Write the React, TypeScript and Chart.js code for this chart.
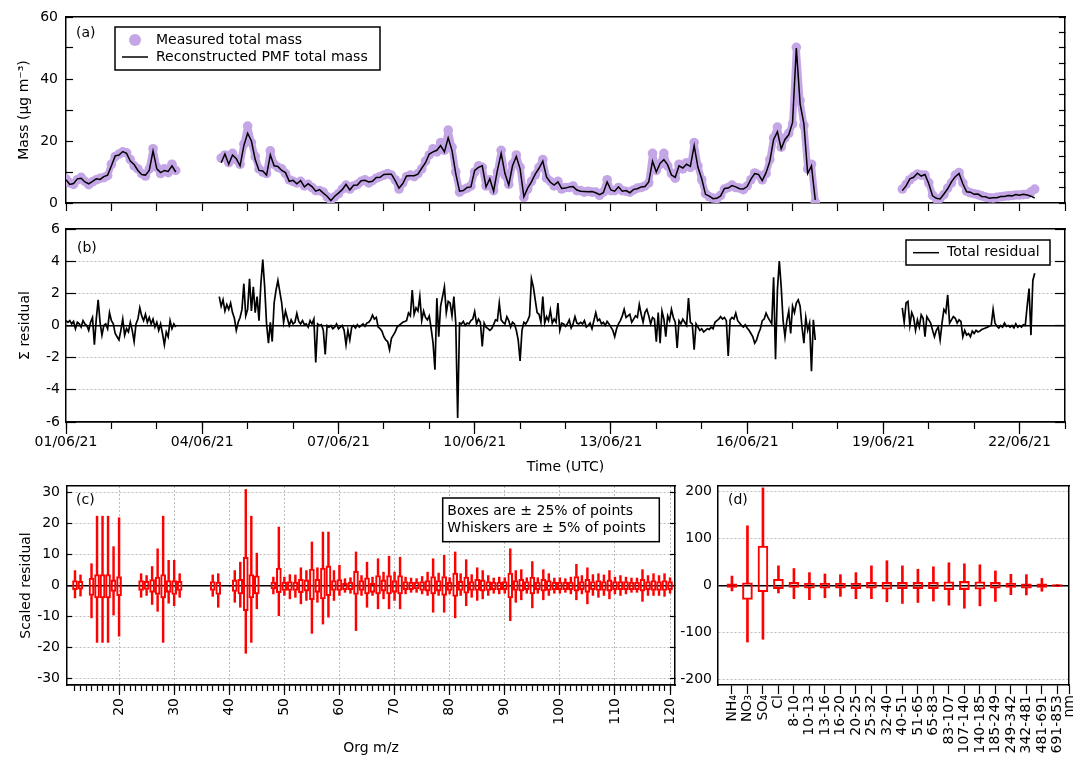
import React, { useEffect, useRef } from 'react';
import { Chart, registerables } from 'chart.js';

Chart.register(...registerables);

const FONT_FAMILY = '"DejaVu Sans", sans-serif';
const FONT_SIZE = 14;
Chart.defaults.font.family = FONT_FAMILY;
Chart.defaults.font.size = FONT_SIZE;
Chart.defaults.color = '#000';

const _ = null;

// ---------------------------------------------------------------------------
// (a) total mass, one row per day from 01/06/21, 2-hourly samples (null = no data)
const MASS_STEP_HOURS = 2;
const measuredMass: (number | null)[][] = [
  [7.8, 6.5, 6.0, 7.5, 8.3, 7.0, 5.9, 6.8, 7.5, 8.0, 8.2, 8.8], // 01/06
  [12.5, 15.0, 15.8, 16.5, 16.2, 14.0, 12.0, 11.0, 9.5, 8.7, 11.0, 17.5], // 02/06
  [11.5, 9.5, 11.0, 9.8, 12.5, 10.5, _, _, _, _, _, _], // 03/06
  [_, _, _, _, _, 14.5, 15.5, 13.0, 16.0, 14.0, 12.5, 19.0], // 04/06
  [24.8, 19.5, 15.0, 11.0, 10.0, 9.5, 16.8, 12.5, 11.5, 11.0, 9.5, 7.5], // 05/06
  [7.0, 6.5, 7.0, 5.5, 6.0, 5.0, 4.0, 4.0, 3.5, 2.0, 1.0, 2.0], // 06/06
  [3.0, 4.5, 5.8, 4.5, 5.5, 6.0, 7.0, 7.5, 6.5, 7.2, 8.0, 8.5], // 07/06
  [9.0, 9.5, 9.0, 7.5, 4.5, 6.5, 8.5, 9.0, 8.5, 9.5, 11.0, 13.5], // 08/06
  [15.5, 17.5, 16.5, 19.5, 17.0, 23.5, 18.0, 10.0, 3.5, 4.3, 4.8, 5.5], // 09/06
  [10.0, 12.0, 11.5, 5.5, 7.5, 4.0, 10.0, 17.0, 9.0, 6.0, 12.5, 15.5], // 10/06
  [11.5, 1.8, 4.5, 7.0, 9.0, 11.5, 14.0, 8.0, 7.0, 5.5, 7.0, 4.5], // 11/06
  [5.0, 5.0, 5.5, 4.0, 4.0, 3.5, 3.8, 3.5, 3.5, 2.5, 3.5, 7.5], // 12/06
  [4.0, 4.0, 5.0, 4.0, 3.8, 3.5, 4.2, 4.8, 5.0, 5.5, 6.5, 16.0], // 13/06
  [10.5, 12.5, 16.0, 12.0, 9.5, 8.0, 12.5, 11.0, 13.0, 11.5, 19.5, 12.0], // 14/06
  [7.5, 3.0, 2.0, 1.6, 1.4, 2.5, 4.5, 5.0, 5.8, 5.0, 4.8, 4.3], // 15/06
  [5.5, 7.5, 9.7, 9.0, 7.5, 9.5, 14.0, 21.0, 24.5, 18.0, 21.0, 22.5], // 16/06
  [25.5, 50.2, 33.0, 25.0, 11.0, 12.5, 0.3, _, _, _, _, _], // 17/06
  [_, _, _, _, _, _, _, _, _, _, _, _], // 18/06
  [_, _, _, _, _, 4.5, 6.0, 7.5, 8.5, 9.3, 9.0, 9.0], // 19/06
  [6.5, 2.5, 1.3, 1.5, 2.7, 4.8, 6.5, 9.0, 9.8, 6.5, 3.8, 3.3], // 20/06
  [3.0, 2.7, 2.3, 1.9, 1.7, 1.6, 1.8, 2.0, 2.2, 2.3, 2.4, 2.6], // 21/06
  [2.6, 2.7, 2.8, 3.6, 4.5, _, _, _, _, _, _, _], // 22/06
];

const reconstructedMass: (number | null)[][] = [
  [7.5, 6.0, 6.3, 7.8, 8.0, 6.8, 6.2, 7.0, 7.8, 7.6, 8.5, 9.0], // 01/06
  [12.0, 15.2, 15.5, 16.6, 16.0, 13.5, 12.4, 10.5, 9.2, 9.0, 10.5, 16.8], // 02/06
  [11.0, 9.8, 10.5, 10.2, 12.0, 10.0, _, _, _, _, _, _], // 03/06
  [_, _, _, _, _, 13.0, 15.8, 12.5, 15.5, 14.3, 12.0, 18.5], // 04/06
  [22.5, 20.0, 14.0, 10.5, 10.3, 9.0, 15.5, 12.0, 11.8, 10.5, 9.8, 7.0], // 05/06
  [7.3, 6.2, 7.2, 5.2, 6.2, 5.3, 3.8, 4.3, 3.2, 2.2, 0.8, 2.2], // 06/06
  [3.2, 4.3, 6.0, 4.2, 5.7, 5.8, 7.2, 7.3, 6.8, 7.0, 8.2, 8.3], // 07/06
  [9.2, 9.3, 9.3, 7.2, 4.8, 6.3, 8.7, 8.8, 8.8, 9.3, 11.2, 13.0], // 08/06
  [15.8, 16.5, 17.0, 18.5, 16.5, 21.0, 17.0, 9.5, 3.8, 4.0, 5.0, 5.2], // 09/06
  [10.5, 11.5, 12.0, 5.2, 7.8, 3.8, 10.5, 16.0, 9.5, 5.8, 12.0, 15.0], // 10/06
  [11.0, 2.0, 4.8, 6.8, 9.3, 11.2, 13.5, 8.3, 6.7, 5.8, 6.8, 4.7], // 11/06
  [4.8, 5.2, 5.3, 4.2, 3.8, 3.7, 3.6, 3.7, 3.3, 2.7, 3.3, 6.8], // 12/06
  [4.2, 3.8, 5.2, 3.8, 4.0, 3.3, 4.4, 4.6, 5.2, 5.3, 6.8, 13.5], // 13/06
  [10.0, 12.8, 14.0, 12.3, 9.0, 8.3, 12.0, 11.3, 12.5, 11.8, 18.5, 11.5], // 14/06
  [7.8, 2.8, 2.2, 1.4, 1.5, 2.3, 4.7, 4.8, 5.6, 5.2, 4.6, 4.5], // 15/06
  [5.3, 7.7, 9.5, 9.2, 7.2, 9.8, 13.5, 20.5, 23.0, 17.5, 20.5, 22.0], // 16/06
  [26.0, 50.0, 32.0, 25.5, 9.5, 12.0, 1.0, _, _, _, _, _], // 17/06
  [_, _, _, _, _, _, _, _, _, _, _, _], // 18/06
  [_, _, _, _, _, 4.0, 5.5, 7.8, 8.3, 9.6, 8.7, 9.2], // 19/06
  [6.2, 2.3, 1.5, 1.3, 2.9, 4.6, 6.8, 8.5, 9.5, 6.2, 3.6, 3.5], // 20/06
  [2.8, 2.9, 2.1, 2.0, 1.5, 1.7, 1.7, 2.1, 2.1, 2.4, 2.3, 2.7], // 21/06
  [2.5, 2.8, 2.6, 2.2, 1.6, _, _, _, _, _, _, _], // 22/06
];

// (b) total residual, one row per day, hourly samples
const RESIDUAL_STEP_HOURS = 1;
const totalResidual: (number | null)[][] = [
  [0.3, 0.2, 0.3, 0.1, 0.25, -0.2, 0.2, 0.1, -0.1, 0.3, 0.1, 0.0, -0.3, 0.2, 0.5, -1.2, 0.4, 1.6, 0.2, -0.6, 0.0, 0.1, -0.2, 0.8], // 01/06
  [0.3, 0.1, -0.5, -0.7, -0.9, -0.3, 0.4, -0.6, -0.2, -0.4, 0.2, -0.3, -1.0, 0.1, 0.4, 1.1, 0.6, 0.3, 0.7, 0.2, 0.5, 0.1, 0.4, -0.1], // 02/06
  [0.2, -0.3, 0.1, -0.5, -1.2, -0.4, -0.7, 0.3, -0.2, 0.1, -0.1, _, _, _, _, _, _, _, _, _, _, _, _, _], // 03/06
  [_, _, _, _, _, _, _, _, _, 1.8, 1.2, 1.6, 0.9, 1.3, 1.0, 1.4, 0.8, 0.45, -0.3, 0.2, 0.5, 1.0, 2.6, 0.6], // 04/06
  [1.0, 2.9, 0.9, 2.4, 0.8, 1.8, 0.3, 2.6, 4.1, 2.4, 0.1, -1.1, 0.2, -1.0, 1.4, 2.2, 2.8, 2.1, 1.4, 0.2, 0.9, 0.45, 0.0, 0.35], // 05/06
  [0.1, 0.2, 0.75, 0.25, 0.1, 0.3, 0.05, 0.1, -0.1, 0.3, 0.1, 0.4, -2.3, 0.1, 0.0, 0.05, -0.3, -1.8, 0.0, -0.1, 0.0, -0.2, -0.1, 0.1], // 06/06
  [-0.2, -0.1, 0.0, -0.3, -1.2, -0.3, -0.9, -0.1, 0.0, -0.15, 0.05, -0.1, 0.0, 0.1, -0.05, 0.15, 0.2, 0.35, 0.65, 0.4, 0.5, -0.1, -0.2, -0.35], // 07/06
  [-0.7, -0.9, -1.0, -1.5, -0.8, -0.6, -0.4, -0.1, 0.0, 0.1, 0.2, 0.25, 0.3, 0.77, 0.6, 2.2, 0.7, 1.1, 0.9, 1.8, 0.3, 0.9, 0.5, 0.35], // 08/06
  [0.6, -0.2, -1.1, -2.75, 1.7, -0.7, 1.2, 1.8, 2.4, 0.8, 1.5, 1.4, 0.6, 1.8, 0.15, -5.75, 0.15, 0.1, 0.25, 0.0, 0.15, 0.1, 0.3, 0.4], // 09/06
  [0.87, 0.1, 0.4, 0.2, -1.3, 0.15, -0.1, -0.2, -0.3, -0.2, 0.05, 0.35, 0.3, 1.4, 0.35, 0.2, 0.1, 0.55, 0.3, -0.1, 0.2, 0.1, -0.3, -0.9], // 10/06
  [-2.2, -0.3, 0.2, 0.1, 0.3, 0.6, 2.9, 2.4, 1.6, 0.8, 0.7, 0.2, 1.8, 0.15, 0.55, 0.3, 0.95, 0.15, 0.4, 0.2, 1.4, -0.3, 0.15, 0.1], // 11/06
  [-0.05, 0.1, 0.35, -0.15, 0.1, 0.55, 0.15, 0.1, 0.2, 0.1, 0.3, -0.1, 0.0, 0.15, -0.2, 0.3, 0.8, 0.3, 0.4, 0.1, 0.2, 0.0, 0.25, 0.1], // 12/06
  [-0.1, -0.3, -0.7, -0.2, 0.1, 0.3, 0.6, 1.0, 0.5, 0.6, 0.7, 0.2, 0.4, 0.6, 0.5, 1.3, 0.7, 0.2, 0.8, 1.0, 0.6, 0.1, 0.5, 0.4], // 13/06
  [-1.0, 0.8, -1.1, 0.9, 0.4, -0.7, 0.6, 0.3, 1.0, 0.5, 0.2, -1.4, 0.3, 0.1, 0.4, 0.2, 0.0, 1.7, 0.2, 0.1, -1.5, 0.1, -0.1, -0.3], // 14/06
  [-0.2, -0.4, -0.3, -0.2, -0.25, -0.1, -0.2, 0.2, 0.3, 0.4, 0.55, 0.4, 0.5, 0.3, -1.9, 0.35, 0.5, 0.4, 0.77, 0.3, 0.15, 0.0, -0.1, 0.05], // 15/06
  [-0.15, -0.3, -0.5, -0.7, -1.1, -0.9, -0.5, -0.2, 0.3, 0.4, 0.77, 0.5, 0.3, 0.1, 3.0, -2.1, 2.2, 4.0, 2.4, 0.3, -0.7, 0.3, 0.9, -0.5], // 16/06
  [1.2, 0.8, 1.4, 1.6, 1.2, -0.1, -1.1, 0.5, -0.3, 0.15, -2.85, 0.35, -0.9, _, _, _, _, _, _, _, _, _, _, _], // 17/06
  [_, _, _, _, _, _, _, _, _, _, _, _, _, _, _, _, _, _, _, _, _, _, _, _], // 18/06
  [_, _, _, _, _, _, _, _, _, _, 1.1, 0.2, 1.4, 1.5, 0.0, 0.8, 0.5, -0.3, 0.35, -0.1, 0.66, 0.45, -0.7, 0.55], // 19/06
  [0.35, 0.15, -0.3, -0.7, -0.3, -0.1, -0.9, 0.15, 1.0, 0.8, 1.9, 0.15, 0.35, 0.55, 0.45, 0.15, 0.35, 0.25, -0.7, -0.3, -0.6, -0.5, -0.7, -0.35], // 20/06
  [-0.5, -0.3, -0.4, -0.35, -0.25, -0.2, -0.15, -0.1, -0.05, 0.0, 1.0, 0.15, -0.05, -0.15, 0.0, -0.1, 0.15, -0.05, 0.0, -0.1, 0.0, -0.15, 0.1, -0.1], // 21/06
  [0.0, -0.1, 0.05, 0.0, 1.2, 2.3, -0.6, 2.8, 3.25, _, _, _, _, _, _, _, _, _, _, _, _, _, _, _], // 22/06
];

const SPAN_DAYS = 22;
const dateTickDays = [0, 3, 6, 9, 12, 15, 18, 21];
const dateTickLabels = ['01/06/21', '04/06/21', '07/06/21', '10/06/21', '13/06/21', '16/06/21', '19/06/21', '22/06/21'];

// (c) scaled residual per organic m/z: 5th, 25th, 75th, 95th percentiles
const orgMz = [
  12, 13, 15, 16, 17, 18, 19, 20,
  24, 25, 26, 27, 28, 29, 30, 31,
  37, 38, 41, 42, 43, 44, 45,
  48, 49, 50, 51, 52, 53, 54, 55, 56, 57,
  58, 59, 60, 61, 62, 63, 64, 65, 66, 67,
  68, 69, 70, 71, 72, 73, 74, 75, 76, 77,
  78, 79, 80, 81, 82, 83, 84, 85, 86, 87,
  88, 89, 90, 91, 92, 93, 94, 95, 96, 97,
  98, 99, 100, 101, 102, 103, 104, 105, 106, 107,
  108, 109, 110, 111, 112, 113, 114, 115, 116, 117,
  118, 119, 120,
];
const orgP5 = [
  -4.0, -3.4, -10.4, -18.3, -18.3, -18.3, -9.5, -16.3,
  -3.8, -3.2, -6.1, -8.3, -18.3, -5.7, -6.5, -3.8,
  -3.5, -7.0, -5.4, -7.0, -21.8, -18.3, -7.5,
  -2.7, -9.7, -3.2, -4.3, -3.8, -5.9, -4.8, -15.4, -5.4, -12.4,
  -10.2, -4.8, -3.2, -2.2, -2.5, -14.5, -3.2, -7.0, -3.2, -7.5,
  -4.3, -7.5, -4.8, -7.5, -2.7, -2.2, -2.2, -2.7, -3.2, -8.6,
  -3.2, -8.6, -2.7, -10.4, -3.2, -6.5, -3.8, -4.8, -4.3, -3.2,
  -2.5, -2.7, -2.5, -11.3, -5.4, -4.6, -2.5, -7.2, -2.5, -4.6,
  -3.2, -2.5, -2.5, -2.2, -2.7, -4.6, -2.7, -5.9, -3.2, -3.8,
  -3.2, -4.3, -2.7, -3.2, -2.7, -2.2, -2.2, -5.1, -3.2, -3.2,
  -3.2, -3.5, -2.5,
];
const orgQ25 = [
  -1.4, -1.2, -3.2, -4.0, -4.0, -4.0, -1.9, -3.3,
  -1.6, -1.3, -2.2, -2.9, -4.0, -2.2, -2.9, -1.6,
  -1.6, -2.9, -1.9, -2.7, -8.1, -4.0, -2.7,
  -1.1, -2.3, -1.6, -1.6, -1.6, -2.3, -1.8, -4.6, -2.2, -4.3,
  -3.3, -1.6, -1.6, -1.4, -1.4, -2.9, -1.6, -2.7, -2.2, -2.7,
  -1.8, -2.7, -2.2, -2.7, -1.4, -1.4, -1.1, -1.6, -1.8, -2.7,
  -1.8, -3.2, -1.6, -3.5, -1.6, -2.5, -1.6, -1.6, -1.8, -1.6,
  -1.4, -1.4, -1.4, -4.0, -1.6, -1.8, -1.4, -2.7, -1.4, -1.8,
  -1.6, -1.4, -1.4, -1.4, -1.4, -1.8, -1.4, -2.2, -1.4, -1.6,
  -1.6, -1.8, -1.4, -1.4, -1.4, -1.4, -1.4, -1.8, -1.4, -1.6,
  -1.6, -1.6, -1.4,
];
const orgQ75 = [
  1.6, 1.4, 2.4, 3.5, 3.5, 3.5, 1.8, 2.9,
  1.6, 1.4, 1.9, 2.7, 3.5, 1.6, 1.6, 1.4,
  1.3, 1.1, 1.8, 2.0, 9.1, 3.5, 3.1,
  1.1, 5.6, 1.1, 1.3, 1.1, 2.0, 1.8, 5.3, 2.0, 5.6,
  6.3, 1.6, 1.9, 0.75, 1.1, 4.6, 1.6, 2.5, 0.75, 3.2,
  1.8, 3.2, 1.6, 3.2, 1.3, 1.1, 1.1, 1.3, 1.6, 2.9,
  1.6, 2.9, 1.1, 4.0, 1.4, 2.7, 1.3, 2.0, 1.8, 1.3,
  1.1, 1.1, 1.3, 4.0, 1.6, 2.0, 1.3, 2.7, 1.1, 2.0,
  1.6, 1.1, 1.1, 1.1, 1.1, 2.9, 1.3, 2.0, 1.3, 1.6,
  1.3, 1.8, 1.3, 1.3, 1.3, 1.1, 1.1, 2.0, 1.3, 1.6,
  1.3, 1.6, 1.3,
];
const orgP95 = [
  4.8, 3.4, 7.0, 22.3, 22.3, 22.3, 12.5, 21.8,
  3.8, 3.2, 6.1, 11.8, 22.3, 8.1, 8.1, 3.8,
  3.4, 3.8, 4.8, 7.5, 30.9, 22.3, 10.4,
  2.7, 18.8, 2.7, 3.5, 3.4, 5.7, 4.8, 14.0, 5.7, 17.2,
  17.2, 4.8, 6.5, 2.2, 2.5, 10.8, 3.2, 7.5, 2.7, 8.6,
  4.3, 9.4, 4.3, 9.1, 2.7, 2.4, 2.2, 2.9, 4.3, 8.6,
  4.0, 9.7, 2.5, 10.8, 3.8, 8.3, 3.5, 5.7, 4.8, 3.2,
  2.4, 2.7, 2.5, 11.8, 4.8, 5.1, 2.5, 7.7, 2.5, 5.1,
  3.8, 2.4, 2.5, 2.2, 2.7, 6.8, 3.2, 5.7, 3.5, 3.8,
  3.4, 4.8, 2.7, 3.2, 2.7, 2.4, 2.4, 5.1, 3.2, 3.8,
  3.2, 3.8, 2.5,
];

// (d) scaled residual per inorganic species and size bin
const sizeCategories = [
  'NH₄', 'NO₃', 'SO₄', 'Cl', '8-10', '10-13', '13-16', '16-20', '20-25', '25-32', '32-40',
  '40-51', '51-65', '65-83', '83-107', '107-140', '140-185', '185-249', '249-342', '342-481', '481-691', '691-853',
];
const SIZE_UNIT = 'nm';
const sizeP5 = [-11.5, -120, -114, -15.8, -28, -30, -26, -23, -28, -28, -34.5, -38, -36, -33, -41.7, -48.2, -43.2, -33.8, -19.4, -20.1, -12.2, -2];
const sizeQ25 = [-4.3, -29.5, -13, -6.5, -4.3, -5.8, -5.8, -5.8, -6.5, -5.8, -7.9, -6.5, -6.5, -6.5, -8.6, -8.6, -7.9, -5.8, -4.3, -5.8, -4.3, -2];
const sizeQ75 = [3.6, 5.8, 83.5, 13, 6.5, 5, 5, 5, 5, 6.5, 6.5, 6.5, 6.5, 6.5, 7.9, 8.6, 7.9, 6.5, 5, 3.6, 3.6, 2];
const sizeP95 = [20, 126.6, 207, 41.7, 36, 27.3, 24.5, 23, 27.3, 41.7, 52.5, 41.7, 34.5, 39.6, 48.2, 46, 43.9, 31, 23.7, 23, 15, 2];

// ---------------------------------------------------------------------------
const PAGE_W = 1078;
const PAGE_H = 764;
const INK = '#000';
const GRID_GREY = '#bdbdbd';
const DOT = [2, 2];
const LAVENDER = '#c4a6e6';
const RED = '#ff0000';
const CLEAR = 'rgba(0,0,0,0)';
const TEXT_FONT = `${FONT_SIZE}px ${FONT_FAMILY}`;

const MEASURED_LABEL = 'Measured total mass';
const RECONSTRUCTED_LABEL = 'Reconstructed PMF total mass';
const RESIDUAL_LABEL = 'Total residual';

const steps = (from: number, to: number, step: number) => {
  const out: number[] = [];
  for (let v = from; v <= to + 1e-9; v += step) out.push(+v.toFixed(6));
  return out;
};

const fixedSize = (size: number) => (scale: any) => {
  if (scale.isHorizontal()) scale.height = size;
  else scale.width = size;
  scale.paddingLeft = 0;
  scale.paddingRight = 0;
  scale.paddingTop = 0;
  scale.paddingBottom = 0;
};

const ticksAt = (values: number[]) => (scale: any) => {
  scale.ticks = values.map((value) => ({ value }));
};

const frame = { color: INK, width: 1.5 };

const frameTop = (min: number, max: number) => ({
  type: 'linear',
  position: 'top',
  min,
  max,
  ticks: { display: false },
  grid: { drawOnChartArea: false, drawTicks: false },
  border: frame,
  afterFit: fixedSize(0),
});

const frameRight = (min: number, max: number, ticks: number[], tickLength: number) => ({
  type: 'linear',
  position: 'right',
  min,
  max,
  afterBuildTicks: ticksAt(ticks),
  ticks: { display: false },
  grid: { drawOnChartArea: false, drawTicks: tickLength !== 0, tickLength, tickColor: INK, tickWidth: 1.2 },
  border: frame,
  afterFit: fixedSize(0),
});

// horizontal grid: dotted grey, solid black at zero, hidden on the frame edges
const zeroGrid = (edge: number) => ({
  drawOnChartArea: true,
  color: (c: any) => {
    const v = c.tick ? c.tick.value : NaN;
    if (v === 0) return INK;
    return Math.abs(v) >= edge ? CLEAR : GRID_GREY;
  },
  lineWidth: (c: any) => (c.tick && c.tick.value === 0 ? 1.5 : 1),
  tickColor: INK,
  tickWidth: 1.2,
});
const zeroBorder = { ...frame, dash: (c: any) => (c.tick && c.tick.value !== 0 ? DOT : []) };

const baseOptions = (padding: any) => ({
  responsive: false,
  animation: false,
  devicePixelRatio: 1,
  events: [],
  layout: { padding },
  plugins: { legend: { display: false }, tooltip: { enabled: false } },
});

type DecorRow = { text: string; y: number; marker?: 'dot' | 'line' };
type Decor = {
  tag: string;
  tagX: number;
  tagY: number;
  box?: { x: number; y: number; w: number; h: number; textX: number; rows: DecorRow[] };
};

// panel letter plus framed legend / note, positioned from the plot area corner
const makeDecor = (decor: Decor) => ({
  id: 'panelDecor',
  afterDraw(chart: any) {
    const { ctx } = chart;
    const { left, top } = chart.chartArea;
    ctx.save();
    ctx.font = TEXT_FONT;
    ctx.textAlign = 'left';
    ctx.textBaseline = 'middle';
    ctx.fillStyle = INK;
    ctx.fillText(decor.tag, left + decor.tagX, top + decor.tagY);
    const box = decor.box;
    if (box) {
      const bx = left + box.x;
      const by = top + box.y;
      ctx.fillStyle = '#fff';
      ctx.fillRect(bx, by, box.w, box.h);
      ctx.strokeStyle = INK;
      ctx.lineWidth = 1.5;
      ctx.strokeRect(bx, by, box.w, box.h);
      for (const row of box.rows) {
        const y = top + row.y;
        if (row.marker === 'dot') {
          ctx.fillStyle = LAVENDER;
          ctx.beginPath();
          ctx.arc(bx + 20, y, 6, 0, Math.PI * 2);
          ctx.fill();
        } else if (row.marker === 'line') {
          ctx.strokeStyle = INK;
          ctx.lineWidth = 1.5;
          ctx.beginPath();
          ctx.moveTo(bx + 7, y);
          ctx.lineTo(bx + 33, y);
          ctx.stroke();
        }
        ctx.fillStyle = INK;
        ctx.fillText(row.text, left + box.textX, y);
      }
    }
    ctx.restore();
  },
});

const dailyPoints = (rows: (number | null)[][], stepHours: number) =>
  rows.flatMap((row, day) => row.map((y, j) => ({ x: day + (j * stepHours) / 24, y })));

// ---------------------------------------------------------------------------
const buildMassChart = () => ({
  type: 'line',
  data: {
    datasets: [
      {
        label: RECONSTRUCTED_LABEL,
        data: dailyPoints(reconstructedMass, MASS_STEP_HOURS),
        borderColor: INK,
        borderWidth: 1.5,
        pointRadius: 0,
        order: 0,
      },
      {
        // dense measured samples: dots joined by a soft band of the same colour
        label: MEASURED_LABEL,
        data: dailyPoints(measuredMass, MASS_STEP_HOURS),
        showLine: true,
        borderColor: LAVENDER,
        borderWidth: 7,
        borderCapStyle: 'round',
        borderJoinStyle: 'round',
        pointRadius: 4.8,
        pointBorderWidth: 0,
        pointBackgroundColor: LAVENDER,
        order: 1,
      },
    ],
  },
  options: {
    ...baseOptions({ left: 0, top: 17, right: 13, bottom: 551 }),
    scales: {
      x: {
        type: 'linear',
        position: 'bottom',
        min: 0,
        max: SPAN_DAYS,
        afterBuildTicks: ticksAt(steps(0, SPAN_DAYS, 1)),
        ticks: { display: false },
        grid: { drawOnChartArea: false, tickLength: 8, tickColor: INK, tickWidth: 1.2 },
        border: frame,
        afterFit: fixedSize(10),
      },
      xTop: frameTop(0, SPAN_DAYS),
      y: {
        type: 'linear',
        position: 'left',
        min: 0,
        max: 60,
        afterBuildTicks: ticksAt(steps(0, 60, 5)),
        ticks: { padding: 15, callback: (v: number) => (v % 20 === 0 ? String(v) : '') },
        grid: { drawOnChartArea: false, tickLength: -7, tickColor: INK, tickWidth: 1.2 },
        border: frame,
        title: { display: true, text: 'Mass (µg m⁻³)', padding: { top: 15.5, bottom: 0 } },
        afterFit: fixedSize(66),
      },
      yRight: frameRight(0, 60, steps(0, 60, 5), -6),
    },
  },
  plugins: [
    makeDecor({
      tag: '(a)',
      tagX: 10,
      tagY: 16,
      box: {
        x: 49,
        y: 10,
        w: 265,
        h: 43,
        textX: 90,
        rows: [
          { text: MEASURED_LABEL, y: 23, marker: 'dot' },
          { text: RECONSTRUCTED_LABEL, y: 40, marker: 'line' },
        ],
      },
    }),
  ],
});

const buildResidualChart = () => ({
  type: 'line',
  data: {
    datasets: [
      {
        label: RESIDUAL_LABEL,
        data: dailyPoints(totalResidual, RESIDUAL_STEP_HOURS),
        borderColor: INK,
        borderWidth: 1.7,
        pointRadius: 0,
      },
    ],
  },
  options: {
    ...baseOptions({ left: 0, top: 229, right: 13, bottom: 284 }),
    scales: {
      xMinor: {
        type: 'linear',
        position: 'bottom',
        weight: 0,
        min: 0,
        max: SPAN_DAYS,
        afterBuildTicks: ticksAt(steps(0, SPAN_DAYS, 1)),
        ticks: { display: false },
        grid: { drawOnChartArea: false, tickLength: 7, tickColor: INK, tickWidth: 1.2 },
        border: frame,
        afterFit: fixedSize(0),
      },
      x: {
        type: 'linear',
        position: 'bottom',
        weight: 1,
        min: 0,
        max: SPAN_DAYS,
        afterBuildTicks: ticksAt(dateTickDays),
        ticks: { padding: 0, autoSkip: false, maxRotation: 0, callback: (_v: number, i: number) => dateTickLabels[i] },
        grid: { drawOnChartArea: false, tickLength: 12, tickColor: INK, tickWidth: 1.2 },
        border: frame,
        title: { display: true, text: 'Time (UTC)', padding: { top: 0, bottom: 4 } },
        afterFit: fixedSize(58),
      },
      xTop: frameTop(0, SPAN_DAYS),
      y: {
        type: 'linear',
        position: 'left',
        min: -6,
        max: 6,
        afterBuildTicks: ticksAt(steps(-6, 6, 2)),
        ticks: { padding: 16 },
        grid: { ...zeroGrid(6), tickLength: -10 },
        border: zeroBorder,
        title: { display: true, text: 'Σ residual', padding: { top: 17, bottom: 0 } },
        afterFit: fixedSize(66),
      },
      yRight: frameRight(-6, 6, steps(-6, 6, 2), -10),
    },
  },
  plugins: [
    makeDecor({
      tag: '(b)',
      tagX: 11,
      tagY: 19,
      box: {
        x: 840,
        y: 11,
        w: 144,
        h: 25,
        textX: 881,
        rows: [{ text: RESIDUAL_LABEL, y: 23.7, marker: 'line' }],
      },
    }),
  ],
});

const boxDatasets = (
  xs: number[],
  p5: number[],
  q25: number[],
  q75: number[],
  p95: number[],
  boxWidth: number,
  whiskerWidth: number,
) => {
  const whisker = {
    type: 'bar',
    backgroundColor: RED,
    borderWidth: 0,
    barThickness: whiskerWidth,
    grouped: false,
  };
  return [
    { ...whisker, label: 'lower whisker', data: xs.map((x, i) => ({ x, y: [p5[i], q25[i]] })) },
    { ...whisker, label: 'upper whisker', data: xs.map((x, i) => ({ x, y: [q75[i], p95[i]] })) },
    {
      type: 'bar',
      label: 'interquartile box',
      data: xs.map((x, i) => ({ x, y: [q25[i], q75[i]] })),
      backgroundColor: CLEAR,
      borderColor: RED,
      borderWidth: 1.4,
      borderSkipped: false,
      barThickness: boxWidth,
      grouped: false,
    },
  ];
};

const ORG_MIN = 10.55;
const ORG_MAX = 120.9;

const buildOrgChart = () => ({
  type: 'bar',
  data: { datasets: boxDatasets(orgMz, orgP5, orgQ25, orgQ75, orgP95, 5, 1.8) },
  options: {
    ...baseOptions({ left: 0, top: 486, right: 403, bottom: 0 }),
    scales: {
      xMinor: {
        type: 'linear',
        position: 'bottom',
        weight: 0,
        offset: false,
        min: ORG_MIN,
        max: ORG_MAX,
        afterBuildTicks: ticksAt(steps(12, 120, 1)),
        ticks: { display: false },
        grid: { offset: false, drawOnChartArea: false, tickLength: 6, tickColor: INK, tickWidth: 1.2 },
        border: frame,
        afterFit: fixedSize(0),
      },
      x: {
        type: 'linear',
        position: 'bottom',
        weight: 1,
        offset: false,
        min: ORG_MIN,
        max: ORG_MAX,
        afterBuildTicks: ticksAt(steps(20, 120, 10)),
        ticks: { autoSkip: false, minRotation: 90, maxRotation: 90, padding: 3, callback: (v: number) => String(v) },
        grid: { offset: false, drawOnChartArea: true, color: GRID_GREY, lineWidth: 1, tickLength: 10, tickColor: INK, tickWidth: 1.2 },
        border: { ...frame, dash: (c: any) => (c.tick ? DOT : []) },
        title: { display: true, text: 'Org m/z', padding: { top: 0, bottom: 7.6 } },
        afterFit: fixedSize(79),
      },
      xTop: { ...frameTop(ORG_MIN, ORG_MAX), offset: false },
      y: {
        type: 'linear',
        position: 'left',
        min: -32,
        max: 32,
        afterBuildTicks: ticksAt(steps(-30, 30, 10)),
        ticks: { padding: 12 },
        grid: { ...zeroGrid(100), tickLength: -5 },
        border: zeroBorder,
        title: { display: true, text: 'Scaled residual', padding: { top: 18, bottom: 0 } },
        afterFit: fixedSize(67),
      },
      yRight: frameRight(-32, 32, steps(-30, 30, 10), -5),
    },
  },
  plugins: [
    makeDecor({
      tag: '(c)',
      tagX: 9,
      tagY: 14,
      box: {
        x: 375.7,
        y: 12,
        w: 216.6,
        h: 43.7,
        textX: 380.3,
        rows: [
          { text: 'Boxes are ± 25% of points', y: 25.7 },
          { text: 'Whiskers are ± 5% of points', y: 42.3 },
        ],
      },
    }),
  ],
});

const SIZE_MIN = -0.9;
const SIZE_MAX = 21.75;
const sizeIndex = sizeCategories.map((_c, i) => i);
const sizeTickValues = [...sizeIndex, SIZE_MAX];
const sizeTickLabels = [...sizeCategories, SIZE_UNIT];

const buildSizeChart = () => ({
  type: 'bar',
  data: { datasets: boxDatasets(sizeIndex, sizeP5, sizeQ25, sizeQ75, sizeP95, 10, 2) },
  options: {
    ...baseOptions({ left: 678, top: 486, right: 9, bottom: 0 }),
    scales: {
      x: {
        type: 'linear',
        position: 'bottom',
        offset: false,
        min: SIZE_MIN,
        max: SIZE_MAX,
        afterBuildTicks: ticksAt(sizeTickValues),
        ticks: {
          autoSkip: false,
          minRotation: 90,
          maxRotation: 90,
          padding: 1,
          callback: (_v: number, i: number) => sizeTickLabels[i],
        },
        grid: { offset: false, drawOnChartArea: false, tickLength: 9, tickColor: INK, tickWidth: 1.2 },
        border: frame,
        afterFit: fixedSize(79),
      },
      xTop: { ...frameTop(SIZE_MIN, SIZE_MAX), offset: false },
      y: {
        type: 'linear',
        position: 'left',
        min: -211,
        max: 211,
        afterBuildTicks: ticksAt(steps(-200, 200, 100)),
        ticks: { padding: 6 },
        grid: { ...zeroGrid(1000), drawTicks: false },
        border: zeroBorder,
        afterFit: fixedSize(40),
      },
      yRight: frameRight(-211, 211, steps(-200, 200, 100), 0),
    },
  },
  plugins: [makeDecor({ tag: '(d)', tagX: 10, tagY: 14 })],
});

// ---------------------------------------------------------------------------
function ChartLayer({ build }: { build: () => any }) {
  const ref = useRef<HTMLCanvasElement | null>(null);
  useEffect(() => {
    if (!ref.current) return undefined;
    const chart = new Chart(ref.current, build());
    return () => chart.destroy();
  }, [build]);
  return (
    <canvas
      ref={ref}
      width={PAGE_W}
      height={PAGE_H}
      style={{ position: 'absolute', left: 0, top: 0, width: PAGE_W, height: PAGE_H, pointerEvents: 'none' }}
    />
  );
}

const panels = [buildMassChart, buildResidualChart, buildOrgChart, buildSizeChart];

export default function App() {
  return (
    <div
      style={{
        position: 'fixed',
        left: 0,
        top: 0,
        width: PAGE_W,
        height: PAGE_H,
        background: '#fff',
        overflow: 'hidden',
      }}
    >
      {panels.map((build, i) => (
        <ChartLayer key={i} build={build} />
      ))}
    </div>
  );
}
